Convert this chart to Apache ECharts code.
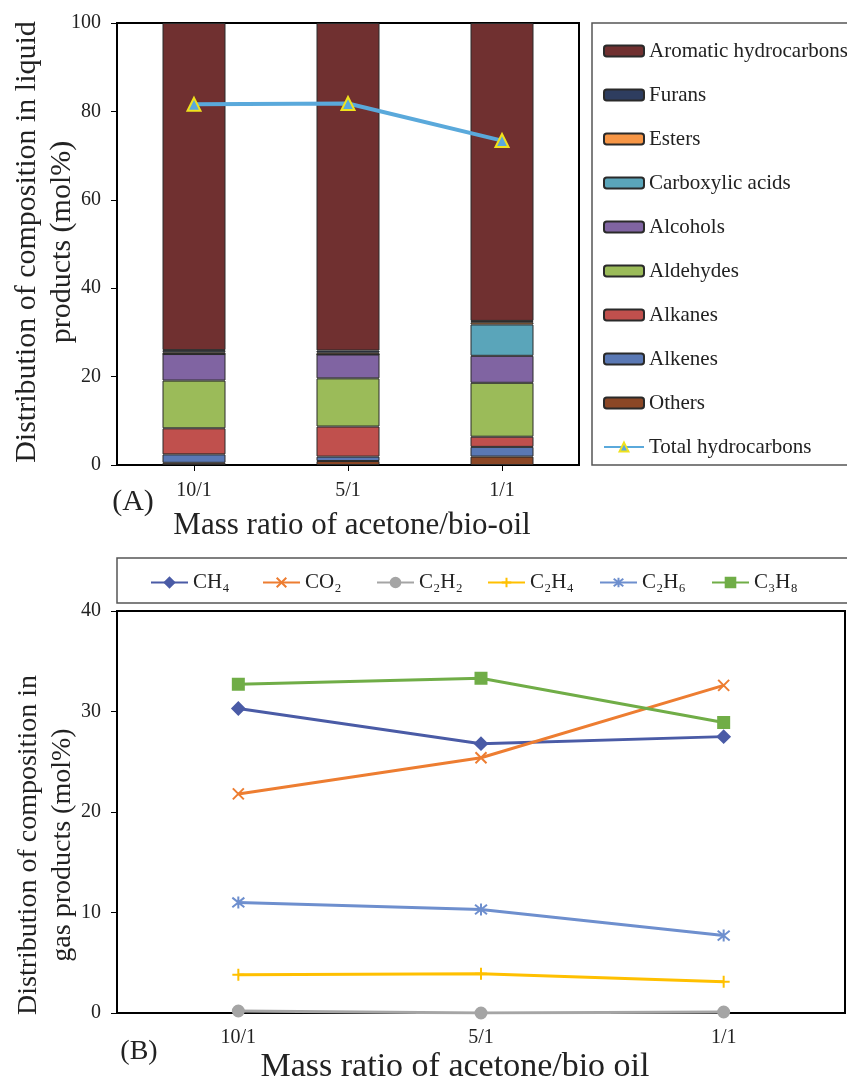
<!DOCTYPE html>
<html>
<head>
<meta charset="utf-8">
<script src="https://cdn.jsdelivr.net/npm/echarts@6/dist/echarts.min.js"></script>
<style>
html,body{margin:0;padding:0;background:#fff;}
#chart{width:847px;height:1077px;}
</style>
</head>
<body>
<div id="chart"></div>
<script>
// ---------- Data (A): liquid products ----------
const ratiosA = ['10/1', '5/1', '1/1'];
const others      = [0.5, 0.9, 1.9];
const alkenes     = [1.9, 1.0, 2.2];
const alkanes     = [5.9, 6.8, 2.3];
const aldehydes   = [10.8, 10.9, 12.2];
const alcohols    = [6.0, 5.4, 6.1];
const carboxylic  = [0.0, 0.0, 7.1];
const esters      = [0.4, 0.4, 0.5];
const furans      = [0.5, 0.5, 0.3];
const aromatic    = [74.0, 74.1, 67.4];
const totalHC     = [81.6, 81.8, 73.4];
const yTicksA = {min: 0, max: 100, interval: 20};

// ---------- Data (B): gas products ----------
const ratiosB = ['10/1', '5/1', '1/1'];
const ch4  = [30.3, 26.8, 27.5];
const co2  = [21.8, 25.4, 32.6];
const c2h2 = [0.2, 0.0, 0.1];
const c2h4 = [3.8, 3.9, 3.1];
const c2h6 = [11.0, 10.3, 7.7];
const c3h8 = [32.7, 33.3, 28.9];
const yTicksB = {min: 0, max: 40, interval: 10};

const FONT = 'Liberation Serif';
const TXT = '#222';

function barSeries(name, data, color) {
  return {
    name: name, type: 'bar', stack: 'liq', xAxisIndex: 0, yAxisIndex: 0,
    data: data, barWidth: 63,
    itemStyle: {color: color, borderColor: '#2a2a2a', borderWidth: 1},
    emphasis: {disabled: true}
  };
}
function lineSeries(name, data, color, symbol, size, extra) {
  return Object.assign({
    name: name, type: 'line', xAxisIndex: 1, yAxisIndex: 1,
    data: data, symbol: symbol, symbolSize: size,
    lineStyle: {color: color, width: 3},
    itemStyle: {color: color, borderColor: color, borderWidth: 2},
    emphasis: {disabled: true}
  }, extra || {});
}

const X_PATH = 'path://M0,0L10,10M10,0L0,10';
const PLUS_PATH = 'path://M5,0L5,10M0,5L10,5';
const STAR_PATH = 'path://M1,1L9,9M9,1L1,9M5,0L5,10';

const axisLineStyle = {show: true, lineStyle: {color: '#000', width: 2}};
const labelStyle = {fontFamily: FONT, fontSize: 20, color: TXT};

const legendNamesB = ['CH₄', 'CO₂', 'C₂H₂', 'C₂H₄', 'C₂H₆', 'C₃H₈'];
const legendLeftB = [145, 257, 371, 482, 594, 706];

const option = {
  animation: false,
  backgroundColor: '#fff',
  grid: [
    {left: 117, top: 23, width: 462, height: 442, show: true, borderColor: '#000', borderWidth: 2, backgroundColor: 'transparent'},
    {left: 117, top: 611, width: 728, height: 402, show: true, borderColor: '#000', borderWidth: 2, backgroundColor: 'transparent'}
  ],
  xAxis: [
    {type: 'category', gridIndex: 0, data: ratiosA,
     axisLine: axisLineStyle, axisTick: {show: true, alignWithLabel: true, length: 6, lineStyle: {color: '#000'}},
     axisLabel: Object.assign({margin: 16}, labelStyle), splitLine: {show: false}},
    {type: 'category', gridIndex: 1, data: ratiosB,
     axisLine: axisLineStyle, axisTick: {show: false},
     axisLabel: Object.assign({margin: 15}, labelStyle), splitLine: {show: false}}
  ],
  yAxis: [
    {type: 'value', gridIndex: 0, min: yTicksA.min, max: yTicksA.max, interval: yTicksA.interval,
     axisLine: axisLineStyle, axisTick: {show: true, length: 6, lineStyle: {color: '#000'}},
     axisLabel: Object.assign({margin: 16}, labelStyle), splitLine: {show: false}},
    {type: 'value', gridIndex: 1, min: yTicksB.min, max: yTicksB.max, interval: yTicksB.interval,
     axisLine: axisLineStyle, axisTick: {show: true, length: 6, lineStyle: {color: '#000'}},
     axisLabel: Object.assign({margin: 16}, labelStyle), splitLine: {show: false}}
  ],
  legend: [
    {orient: 'vertical', left: 598, top: 35, itemWidth: 40, itemHeight: 11, itemGap: 22,
     textStyle: {fontFamily: FONT, fontSize: 21, color: TXT, lineHeight: 22},
     data: ['Aromatic hydrocarbons', 'Furans', 'Esters', 'Carboxylic acids', 'Alcohols',
            'Aldehydes', 'Alkanes', 'Alkenes', 'Others', 'Total hydrocarbons']}
  ].concat(legendNamesB.map(function (n, i) {
    return {orient: 'horizontal', left: legendLeftB[i], top: 567, itemWidth: 37, itemHeight: 12,
      textStyle: {fontFamily: FONT, fontSize: 21, color: TXT}, data: [n]};
  })),
  graphic: [
    {type: 'rect', shape: {x: 592, y: 23, width: 270, height: 442}, style: {fill: 'none', stroke: '#555', lineWidth: 1.5}, z: -1},
    {type: 'rect', shape: {x: 117, y: 558, width: 740, height: 45}, style: {fill: 'none', stroke: '#555', lineWidth: 1.5}, z: -1},
    {type: 'text', x: 45, y: 242, rotation: Math.PI / 2,
     style: {text: 'Distribution of composition in liquid\nproducts (mol%)', font: '30px "Liberation Serif"', fill: TXT, align: 'center', verticalAlign: 'middle', lineHeight: 35}},
    {type: 'text', x: 352, y: 526,
     style: {text: 'Mass ratio of acetone/bio-oil', font: '31px "Liberation Serif"', fill: TXT, align: 'center', verticalAlign: 'middle'}},
    {type: 'text', x: 133, y: 502,
     style: {text: '(A)', font: '30px "Liberation Serif"', fill: TXT, align: 'center', verticalAlign: 'middle'}},
    {type: 'text', x: 46, y: 845, rotation: Math.PI / 2,
     style: {text: 'Distribution of composition in\ngas products (mol%)', font: '28px "Liberation Serif"', fill: TXT, align: 'center', verticalAlign: 'middle', lineHeight: 34}},
    {type: 'text', x: 455, y: 1067,
     style: {text: 'Mass ratio of acetone/bio oil', font: '34px "Liberation Serif"', fill: TXT, align: 'center', verticalAlign: 'middle'}},
    {type: 'text', x: 139, y: 1052,
     style: {text: '(B)', font: '28px "Liberation Serif"', fill: TXT, align: 'center', verticalAlign: 'middle'}}
  ],
  series: [
    barSeries('Others', others, '#8B4726'),
    barSeries('Alkenes', alkenes, '#5A78B4'),
    barSeries('Alkanes', alkanes, '#C0504D'),
    barSeries('Aldehydes', aldehydes, '#9BBB59'),
    barSeries('Alcohols', alcohols, '#8064A2'),
    barSeries('Carboxylic acids', carboxylic, '#5AA5BA'),
    barSeries('Esters', esters, '#F79646'),
    barSeries('Furans', furans, '#2E3D5F'),
    barSeries('Aromatic hydrocarbons', aromatic, '#703030'),
    {name: 'Total hydrocarbons', type: 'line', xAxisIndex: 0, yAxisIndex: 0, data: totalHC,
     symbol: 'triangle', symbolSize: 13, z: 5,
     lineStyle: {color: '#5AA9DB', width: 4},
     itemStyle: {color: '#5AA9DB', borderColor: '#F0E21C', borderWidth: 2},
     emphasis: {disabled: true}},
    lineSeries('CH₄', ch4, '#4A5BA6', 'diamond', 12),
    lineSeries('CO₂', co2, '#ED7D31', X_PATH, 11),
    lineSeries('C₂H₂', c2h2, '#A5A5A5', 'circle', 11),
    lineSeries('C₂H₄', c2h4, '#FFC000', PLUS_PATH, 12),
    lineSeries('C₂H₆', c2h6, '#6E8FCE', STAR_PATH, 12),
    lineSeries('C₃H₈', c3h8, '#70AD47', 'rect', 11)
  ]
};

const chart = echarts.init(document.getElementById('chart'), null, {renderer: 'canvas'});
chart.setOption(option);
</script>
</body>
</html>
